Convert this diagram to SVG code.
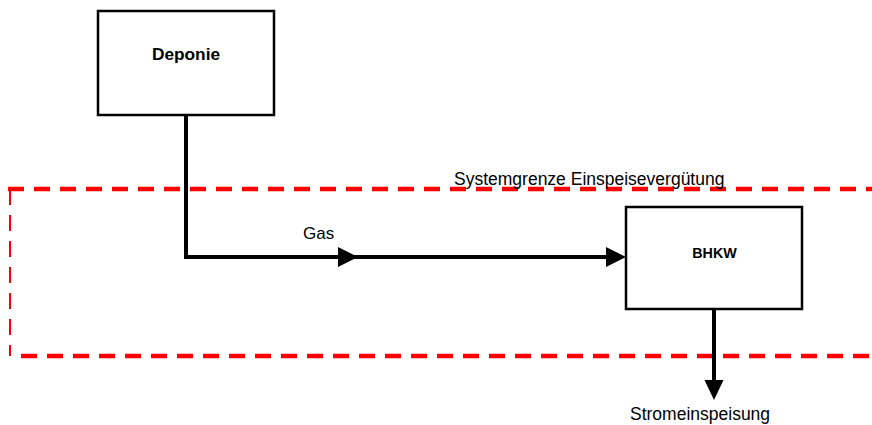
<svg xmlns="http://www.w3.org/2000/svg" width="872" height="425" viewBox="0 0 872 425">
<style>
.box{fill:#fff;stroke:#000;stroke-width:2.5}
.lbl{font-family:"Liberation Sans",Arial,sans-serif;fill:#000}
.conn{fill:none;stroke:#000;stroke-width:4}
.head{fill:#000}
.bound{fill:none;stroke:#ff0000;stroke-dasharray:16 10}
</style>
<g id="boundary">
<line class="bound" x1="8" y1="189" x2="872" y2="189" stroke-width="4.5"/>
<line class="bound" x1="10" y1="189" x2="10" y2="356" stroke-width="2"/>
<line class="bound" x1="21" y1="356" x2="872" y2="356" stroke-width="4.5"/>
<text class="lbl" x="454" y="185" font-size="17.5">Systemgrenze Einspeisevergütung</text>
</g>
<g id="connectors">
<path class="conn" d="M186,115 V257 H345"/>
<path class="head" d="M338,247 L358,257 L338,267 z"/>
<path class="conn" d="M345,257 H612"/>
<path class="head" d="M606,247 L626,257 L606,267 z"/>
<path class="conn" d="M714,310 V385"/>
<path class="head" d="M704.5,380 L714,400 L723.5,380 z"/>
<text class="lbl" x="303" y="239" font-size="17">Gas</text>
<text class="lbl" x="630" y="420" font-size="17.5">Stromeinspeisung</text>
</g>
<g id="deponie">
<rect class="box" x="98" y="11" width="176" height="104"/>
<text class="lbl" x="186" y="60" font-size="17.3" font-weight="bold" text-anchor="middle">Deponie</text>
</g>
<g id="bhkw">
<rect class="box" x="626" y="207" width="176" height="102"/>
<text class="lbl" x="714.5" y="257.5" font-size="14.3" font-weight="bold" text-anchor="middle">BHKW</text>
</g>
</svg>
